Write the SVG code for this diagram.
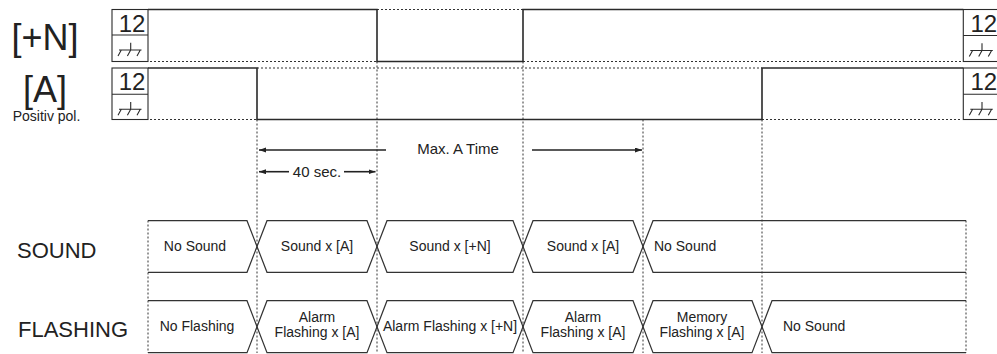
<svg xmlns="http://www.w3.org/2000/svg" width="997" height="354" viewBox="0 0 997 354">
<style>
text{font-family:"Liberation Sans",Arial,sans-serif;fill:#222}
.big{font-size:36px}
.lbl{font-size:22px}
.num{font-size:24px}
.sm{font-size:14px}
.md{font-size:15px}
.sig{fill:none;stroke:#2a2a2a;stroke-width:1.6}
.box{fill:#fff;stroke:#2a2a2a;stroke-width:1.1}
.dot{fill:none;stroke:#333;stroke-width:1;stroke-dasharray:2 2}
.hex{fill:none;stroke:#333;stroke-width:1.2}
.arr{fill:none;stroke:#222;stroke-width:1.6}
.gnd{fill:none;stroke:#2a2a2a;stroke-width:1.1}
</style>
<defs>
<marker id="ah" markerUnits="userSpaceOnUse" markerWidth="8" markerHeight="6" refX="7" refY="2.5" orient="auto">
<path d="M0,0 L7,2.5 L0,5 z" fill="#222"/>
</marker>
<g id="ground">
<path class="gnd" d="M7,15 H29.5 M18.7,7.7 V15 M9.3,15 L6,21 M18.7,15 L15.4,21 M28.3,15 L25,21"/>
</g>
</defs>

<g id="labels">
<text class="big" x="45" y="50" text-anchor="middle">[+N]</text>
<text class="big" x="45" y="101.5" text-anchor="middle">[A]</text>
<text class="sm" x="46.5" y="120.5" text-anchor="middle">Positiv pol.</text>
<text class="lbl" x="17" y="257.7">SOUND</text>
<text class="lbl" x="18" y="336.7">FLASHING</text>
</g>

<g id="connectors">
<path class="dot" d="M150,61.5 H377 M523,61.5 H961 M377,9.5 H523 M257,68 H762 M150,119.5 H257 M762,119.5 H961"/>
<path class="dot" d="M257,119.5 V353 M377,61.5 V353 M523,61.5 V353 M643,119.5 V353 M762,119.5 V353 M148,220.5 V353 M966,220.5 V353"/>
<line class="arr" x1="386" y1="150" x2="259" y2="150" marker-end="url(#ah)"/>
<line class="arr" x1="532" y1="150" x2="642" y2="150" marker-end="url(#ah)"/>
<line class="arr" x1="289" y1="171.7" x2="259" y2="171.7" marker-end="url(#ah)"/>
<line class="arr" x1="344" y1="171.7" x2="375.5" y2="171.7" marker-end="url(#ah)"/>
<text class="md" x="458" y="154" text-anchor="middle">Max. A Time</text>
<text class="md" x="317" y="176.5" text-anchor="middle">40 sec.</text>
</g>

<g id="signal-N">
<path class="sig" d="M148,9.5 H377 V61.5 H523 V9.5 H963.3"/>
<rect class="box" x="112" y="9.5" width="36" height="52"/>
<line class="box" x1="112" y1="35" x2="148" y2="35"/>
<text class="num" x="132" y="31.7" text-anchor="middle">12</text>
<use href="#ground" x="112" y="35"/>
<rect class="box" x="963.3" y="9.5" width="40" height="52"/>
<line class="box" x1="963.3" y1="35.5" x2="1003" y2="35.5"/>
<text class="num" x="970.5" y="31.7">12</text>
<use href="#ground" x="963.3" y="35.5"/>
</g>

<g id="signal-A">
<path class="sig" d="M148,68 H257 V119.5 H762 V68 H963.3"/>
<rect class="box" x="112" y="68" width="36" height="51.5"/>
<line class="box" x1="112" y1="94.3" x2="148" y2="94.3"/>
<text class="num" x="132" y="90.3" text-anchor="middle">12</text>
<use href="#ground" x="112" y="94.3"/>
<rect class="box" x="963.3" y="68" width="40" height="51.5"/>
<line class="box" x1="963.3" y1="94.3" x2="1003" y2="94.3"/>
<text class="num" x="970.5" y="90.3">12</text>
<use href="#ground" x="963.3" y="94.3"/>
</g>

<g id="sound-1"><path class="hex" d="M148,220.7 H247 L257,246.5 L247,272.3 H148"/><text class="sm" x="195" y="251.3" text-anchor="middle">No Sound</text></g>
<g id="sound-2"><path class="hex" d="M257,246.5 L267,220.7 H367 L377,246.5 L367,272.3 H267 Z"/><text class="sm" x="317" y="251.3" text-anchor="middle">Sound x [A]</text></g>
<g id="sound-3"><path class="hex" d="M377,246.5 L387,220.7 H513 L523,246.5 L513,272.3 H387 Z"/><text class="sm" x="450" y="251.3" text-anchor="middle">Sound x [+N]</text></g>
<g id="sound-4"><path class="hex" d="M523,246.5 L533,220.7 H633 L643,246.5 L633,272.3 H533 Z"/><text class="sm" x="583" y="251.3" text-anchor="middle">Sound x [A]</text></g>
<g id="sound-5"><path class="hex" d="M966,220.7 H653 L643,246.5 L653,272.3 H966"/><text class="sm" x="654" y="251.3">No Sound</text></g>

<g id="flash-1"><path class="hex" d="M148,300.7 H247 L257,326.7 L247,352.7 H148"/><text class="sm" x="197" y="330.5" text-anchor="middle">No Flashing</text></g>
<g id="flash-2"><path class="hex" d="M257,326.7 L267,300.7 H367 L377,326.7 L367,352.7 H267 Z"/><text class="sm" x="317" y="321.7" text-anchor="middle">Alarm</text><text class="sm" x="317" y="336.7" text-anchor="middle">Flashing x [A]</text></g>
<g id="flash-3"><path class="hex" d="M377,326.7 L387,300.7 H513 L523,326.7 L513,352.7 H387 Z"/><text class="sm" x="450" y="330.5" text-anchor="middle">Alarm Flashing x [+N]</text></g>
<g id="flash-4"><path class="hex" d="M523,326.7 L533,300.7 H633 L643,326.7 L633,352.7 H533 Z"/><text class="sm" x="583" y="321.7" text-anchor="middle">Alarm</text><text class="sm" x="583" y="336.7" text-anchor="middle">Flashing x [A]</text></g>
<g id="flash-5"><path class="hex" d="M643,326.7 L653,300.7 H752 L762,326.7 L752,352.7 H653 Z"/><text class="sm" x="702" y="321.7" text-anchor="middle">Memory</text><text class="sm" x="702" y="336.7" text-anchor="middle">Flashing x [A]</text></g>
<g id="flash-6"><path class="hex" d="M966,300.7 H772 L762,326.7 L772,352.7 H966"/><text class="sm" x="783" y="330.5">No Sound</text></g>
</svg>
